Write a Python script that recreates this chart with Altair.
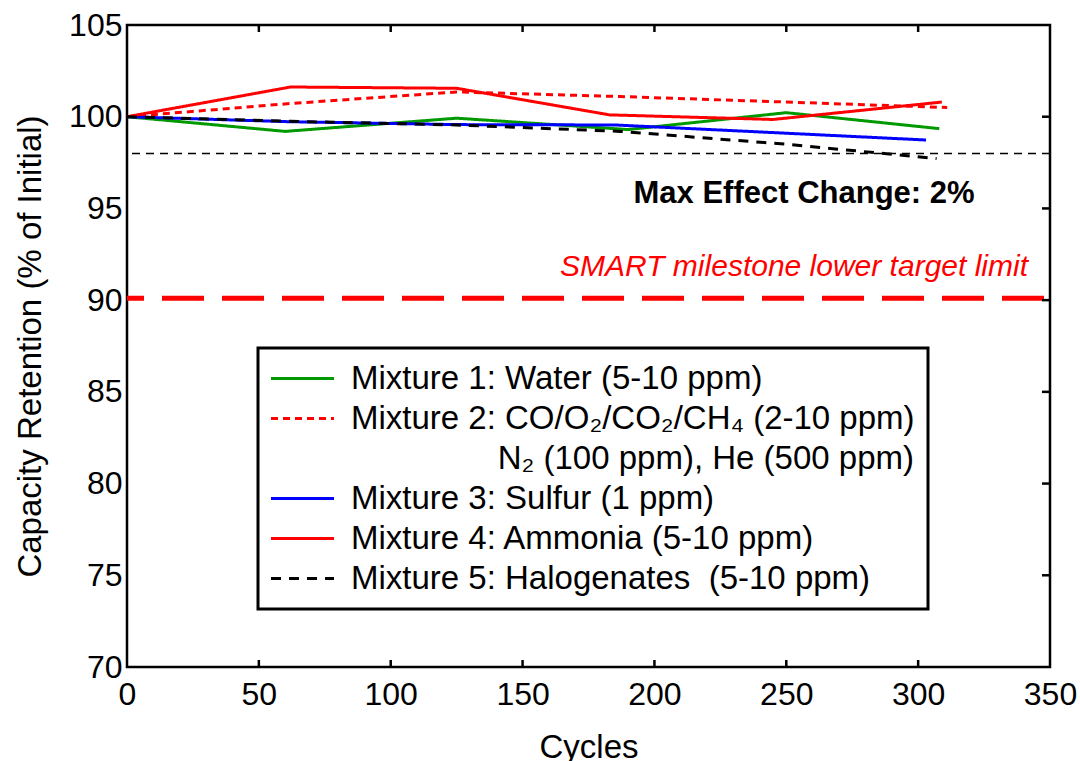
import altair as alt
import pandas as pd

# ---- series data (cycles vs. capacity retention, % of initial) ----
water_cycles = [0, 60, 125, 190, 250, 308]
water_values = [100.0, 99.2, 99.92, 99.3, 100.22, 99.35]

gases_cycles = [0, 62, 125, 187, 250, 311]
gases_values = [100.0, 100.72, 101.35, 101.1, 100.8, 100.5]

sulfur_cycles = [0, 61, 125, 185, 250, 303]
sulfur_values = [100.0, 99.73, 99.57, 99.55, 99.1, 98.73]

ammonia_cycles = [0, 62, 125, 183, 245, 309]
ammonia_values = [100.0, 101.62, 101.55, 100.1, 99.85, 100.8]

halogen_cycles = [0, 62, 125, 187, 250, 307]
halogen_values = [100.0, 99.75, 99.55, 99.2, 98.5, 97.72]

# ---- legend entries (second Mixture 2 row is a label continuation,
#      indented with no-break spaces behind a zero-width lead character) ----
NB = "\u00a0"
legend_labels = [
    "Mixture 1: Water (5-10 ppm)",
    "Mixture 2: CO/O\u2082/CO\u2082/CH\u2084 (2-10 ppm)",
    "\u200b" + NB * 16 + "N\u2082 (100 ppm), He (500 ppm)",
    "Mixture 3: Sulfur (1 ppm)",
    "Mixture 4: Ammonia (5-10 ppm)",
    "Mixture 5: Halogenates" + NB + NB + "(5-10 ppm)",
]
legend_colors = ["#009900", "#ff0000", "transparent", "#0000ff", "#ff0000", "#000000"]
legend_dashes = [[1, 0], [7, 5], [1, 0], [1, 0], [1, 0], [10, 8]]

# ---- axes and reference levels ----
x_ticks = [0, 50, 100, 150, 200, 250, 300, 350]
y_ticks = [70, 75, 80, 85, 90, 95, 100, 105]
max_change_level = [98]
target_level = [90.1]

series = [
    (legend_labels[0], water_cycles, water_values),
    (legend_labels[1], gases_cycles, gases_values),
    (legend_labels[3], sulfur_cycles, sulfur_values),
    (legend_labels[4], ammonia_cycles, ammonia_values),
    (legend_labels[5], halogen_cycles, halogen_values),
]
rows = []
for order, (name, cs, vs) in enumerate(series):
    for c, v in zip(cs, vs):
        rows.append({"series": name, "cycle": c, "retention": v, "order": order})
df = pd.DataFrame(rows)

W, H = 923, 642
FONT = "Liberation Sans"

x_enc = alt.X(
    "cycle:Q",
    title="Cycles",
    scale=alt.Scale(domain=[0, 350], nice=False),
    axis=alt.Axis(
        values=x_ticks, labelPadding=12, labelFlush=False,
        titleY=90, titleBaseline="alphabetic",
    ),
)
y_enc = alt.Y(
    "retention:Q",
    title="Capacity Retention (% of Initial)",
    scale=alt.Scale(domain=[70, 105], nice=False),
    axis=alt.Axis(
        values=y_ticks, labelPadding=5, labelFlush=False,
        titleX=-97, titleY=H / 2, titleAngle=270,
        titleAlign="center", titleBaseline="middle",
    ),
)

# long horizontal line sample drawn from a compact symbol size,
# so the row height follows the label text
legend = alt.Legend(
    title=None, orient="none", legendX=131, legendY=323,
    symbolType="M-2,0H2", symbolSize=992, symbolStrokeWidth=3,
    symbolOffset=14,
    labelFont=FONT, labelFontSize=33, labelColor="black", labelLimit=0,
    labelOffset=31, rowPadding=5, padding=13, fillColor="white",
)

lines = alt.Chart(df).mark_line(strokeWidth=3).encode(
    x=x_enc,
    y=y_enc,
    color=alt.Color("series:N", scale=alt.Scale(domain=legend_labels, range=legend_colors), legend=legend),
    strokeDash=alt.StrokeDash("series:N", scale=alt.Scale(domain=legend_labels, range=legend_dashes), legend=legend),
    order="order:Q",
)

max_rule = alt.Chart(pd.DataFrame({"retention": max_change_level})).mark_rule(
    color="black", strokeWidth=1.5, strokeDash=[8, 6]
).encode(y=y_enc)

target_rule = alt.Chart(pd.DataFrame({"retention": target_level})).mark_rule(
    color="#ff0000", strokeWidth=5, strokeDash=[42, 18], strokeDashOffset=-6
).encode(y=y_enc)

# inward ticks on the top, bottom and right edges of the frame
tick_x = pd.DataFrame({"cycle": x_ticks[1:-1]})
top_ticks = alt.Chart(tick_x).mark_rule(color="black", strokeWidth=2.5).encode(
    x=x_enc, y=alt.value(0), y2=alt.value(7)
)
bottom_ticks = alt.Chart(tick_x).mark_rule(color="black", strokeWidth=2.5).encode(
    x=x_enc, y=alt.value(H), y2=alt.value(H - 7)
)
right_ticks = alt.Chart(pd.DataFrame({"retention": y_ticks[1:-1]})).mark_rule(
    color="black", strokeWidth=2.5
).encode(y=y_enc, x=alt.value(W), x2=alt.value(W - 8))

max_label = alt.Chart(pd.DataFrame({"t": ["Max Effect Change: 2%"]})).mark_text(
    font=FONT, fontSize=31, fontWeight="bold", color="black",
    align="center", baseline="alphabetic",
).encode(text="t:N", x=alt.value(677), y=alt.value(178))

target_label = alt.Chart(pd.DataFrame({"t": ["SMART milestone lower target limit"]})).mark_text(
    font=FONT, fontSize=30, fontStyle="italic", color="#ff0000",
    align="right", baseline="alphabetic",
).encode(text="t:N", x=alt.value(901), y=alt.value(251))

chart = (
    alt.layer(max_rule, target_rule, lines, top_ticks, bottom_ticks, right_ticks, max_label, target_label)
    .properties(
        width=W, height=H,
        autosize=alt.AutoSizeParams(type="none"),
        padding={"left": 127, "top": 25, "right": 30, "bottom": 94},
        background="white",
    )
    .configure_view(stroke="black", strokeWidth=2.5)
    .configure_axis(
        grid=False, ticks=False, domain=False,
        labelFont=FONT, labelFontSize=32, labelColor="black",
        titleFont=FONT, titleFontSize=33, titleFontWeight="normal", titleColor="black",
    )
    .configure_legend(strokeColor="black", strokeWidth=3)
)

chart.save("out.html", embed_options={"renderer": "svg", "actions": False})
